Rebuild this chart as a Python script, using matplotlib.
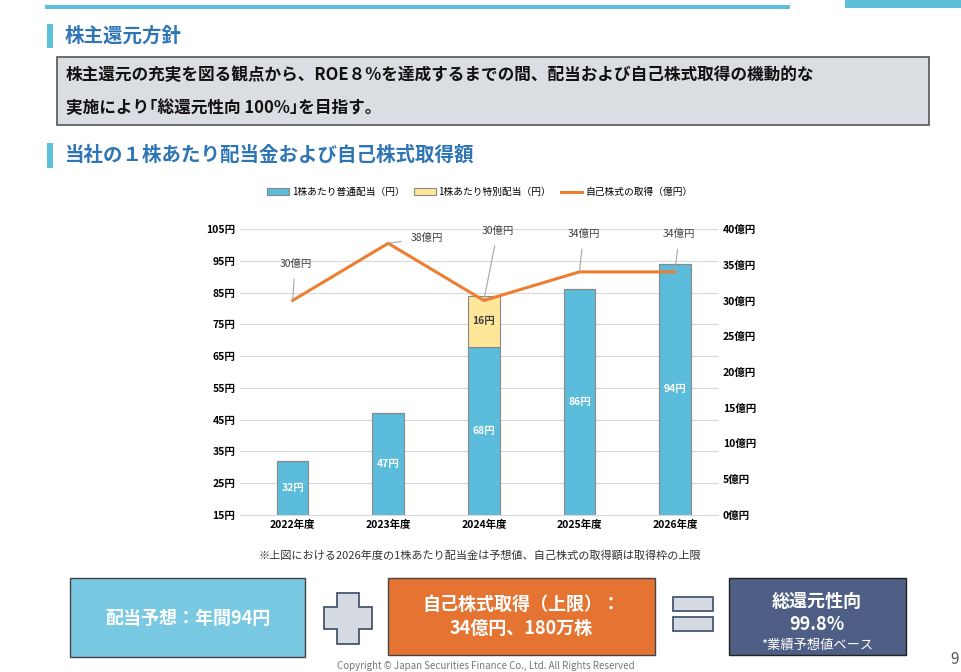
import matplotlib
matplotlib.use("Agg")
import matplotlib.pyplot as plt
from matplotlib.patches import Rectangle, Polygon
import numpy as np

plt.rcParams['font.family'] = ['Noto Sans CJK JP', 'DejaVu Sans']

categories = ["2022年度", "2023年度", "2024年度", "2025年度", "2026年度"]
regular_div = [32, 47, 68, 86, 94]
special_div = [0, 0, 16, 0, 0]
buyback = [30, 38, 30, 34, 34]
left_ticks = [15, 25, 35, 45, 55, 65, 75, 85, 95, 105]
right_ticks = [0, 5, 10, 15, 20, 25, 30, 35, 40]

W, H = 962, 672
fig = plt.figure(figsize=(W/100, H/100), dpi=100)

def box(x0, y0, x1, y1, **kw):
    fig.patches.append(Rectangle((x0/W, 1-y1/H), (x1-x0)/W, (y1-y0)/H, transform=fig.transFigure, **kw))

def txt(x, y, s, **kw):
    fig.text(x/W, 1-y/H, s, **kw)

# header decorations
box(45, 5, 790, 9, color='#5BC0D8', lw=0)
box(845, 0, 962, 8, color='#5BC0D8', lw=0)
box(47, 24, 53, 48, color='#5BC0D8', lw=0)
txt(65, 36, "株主還元方針", fontsize=14, fontweight='bold', color='#2E75B6', va='center')
box(57, 57, 929, 125, facecolor='#DADDE2', edgecolor='#555555', lw=1.2)
txt(66, 75, "株主還元の充実を図る観点から、ROE８%を達成するまでの間、配当および自己株式取得の機動的な",
    fontsize=12, fontweight='bold', color='#111111', va='center')
txt(66, 108, "実施により｢総還元性向 100%｣を目指す。", fontsize=12, fontweight='bold', color='#111111', va='center')
box(47, 143, 53, 168, color='#5BC0D8', lw=0)
txt(65, 155, "当社の１株あたり配当金および自己株式取得額", fontsize=14, fontweight='bold', color='#2E75B6', va='center')

# chart
ax = fig.add_axes([240/W, 1-515/H, 478/W, 286/H])
x = np.arange(len(categories))
ax.bar(x, np.array(regular_div)-15, bottom=15, width=0.33, color='#5BBCDB', edgecolor='#888888', lw=0.8,
       label="1株あたり普通配当（円）")
ax.bar(x, special_div, bottom=regular_div, width=0.33, color='#FFE699', edgecolor='#888888', lw=0.8,
       label="1株あたり特別配当（円）")
for i in range(len(x)):
    ax.text(x[i], (15+regular_div[i])/2, f"{regular_div[i]}円", ha='center', va='center', color='white', fontsize=7.5, fontweight='bold')
    if special_div[i]:
        ax.text(x[i], regular_div[i]+special_div[i]/2, f"{special_div[i]}円", ha='center', va='center', color='#404040', fontsize=7.5, fontweight='bold')
ax.set_ylim(15, 105)
ax.set_yticks(left_ticks)
ax.set_yticklabels([f"{v}円" for v in left_ticks], fontsize=7.5, fontweight='bold')
ax.set_xlim(-0.55, 4.45)
ax.set_xticks(x)
ax.set_xticklabels(categories, fontsize=7.5, fontweight='bold')
ax.grid(axis='y', color='#D9D9D9', lw=0.8)
ax.set_axisbelow(True)
for s in ax.spines.values():
    s.set_visible(False)
ax.spines['bottom'].set_visible(True)
ax.spines['bottom'].set_color('#D9D9D9')
ax.tick_params(length=0)

ax2 = ax.twinx()
ln, = ax2.plot(x, buyback, color='#ED7D31', lw=2.2, label="自己株式の取得（億円）")
ax2.set_ylim(0, 40)
ax2.set_yticks(right_ticks)
ax2.set_yticklabels([f"{v}億円" for v in right_ticks], fontsize=7.5, fontweight='bold')
ax2.tick_params(length=0)
for s in ax2.spines.values():
    s.set_visible(False)
offs = [(2, 26), (28, 4), (10, 50), (3, 27), (3, 27)]
for i in range(len(x)):
    ax2.annotate(f"{buyback[i]}億円", (x[i], buyback[i]), xytext=offs[i], textcoords='offset points',
                 ha='center', va='center', fontsize=7.5, color='#404040',
                 arrowprops=dict(arrowstyle='-', color='#A6A6A6', lw=0.8, shrinkA=5, shrinkB=0))

h1, l1 = ax.get_legend_handles_labels()
fig.legend(h1 + [ln], l1 + [ln.get_label()], loc='center', bbox_to_anchor=(480/W, 1-192/H), ncol=3,
           frameon=False, fontsize=7, handlelength=2.2, handleheight=0.6, columnspacing=1.0, handletextpad=0.3)

txt(480, 556, "※上図における2026年度の1株あたり配当金は予想値、自己株式の取得額は取得枠の上限",
    fontsize=8, color='#333333', ha='center', va='center')

# bottom boxes
box(70, 578, 305, 657, facecolor='#78C9E1', edgecolor='#444444', lw=1)
txt(188, 618, "配当予想：年間94円", fontsize=13, fontweight='bold', color='white', ha='center', va='center')
pts = [(337,593),(359,593),(359,607),(372,607),(372,629),(359,629),(359,644),(337,644),(337,629),(324,629),(324,607),(337,607)]
fig.patches.append(Polygon([(a/W, 1-b/H) for a, b in pts], closed=True, transform=fig.transFigure,
                           facecolor='#D6DAE2', edgecolor='#3A4A66', lw=1.2))
box(388, 578, 655, 655, facecolor='#E57432', edgecolor='#444444', lw=1)
txt(521, 604, "自己株式取得（上限）：", fontsize=13, fontweight='bold', color='white', ha='center', va='center')
txt(521, 628, "34億円、180万株", fontsize=13, fontweight='bold', color='white', ha='center', va='center')
box(673, 597, 713, 611, facecolor='#D6DAE2', edgecolor='#3A4A66', lw=1.2)
box(673, 617, 713, 631, facecolor='#D6DAE2', edgecolor='#3A4A66', lw=1.2)
box(729, 578, 906, 655, facecolor='#4F5E84', edgecolor='#222222', lw=1)
txt(817, 601, "総還元性向", fontsize=13, fontweight='bold', color='white', ha='center', va='center')
txt(817, 625, "99.8%", fontsize=13, fontweight='bold', color='white', ha='center', va='center')
txt(817, 645, "*業績予想値ベース", fontsize=9.5, color='white', ha='center', va='center')
txt(955, 660, "9", fontsize=11, color='#555555', ha='center', va='center')
txt(486, 666, "Copyright © Japan Securities Finance Co., Ltd. All Rights Reserved", fontsize=7, color='#777777', ha='center', va='center')

fig.savefig("out.png", dpi=100)
